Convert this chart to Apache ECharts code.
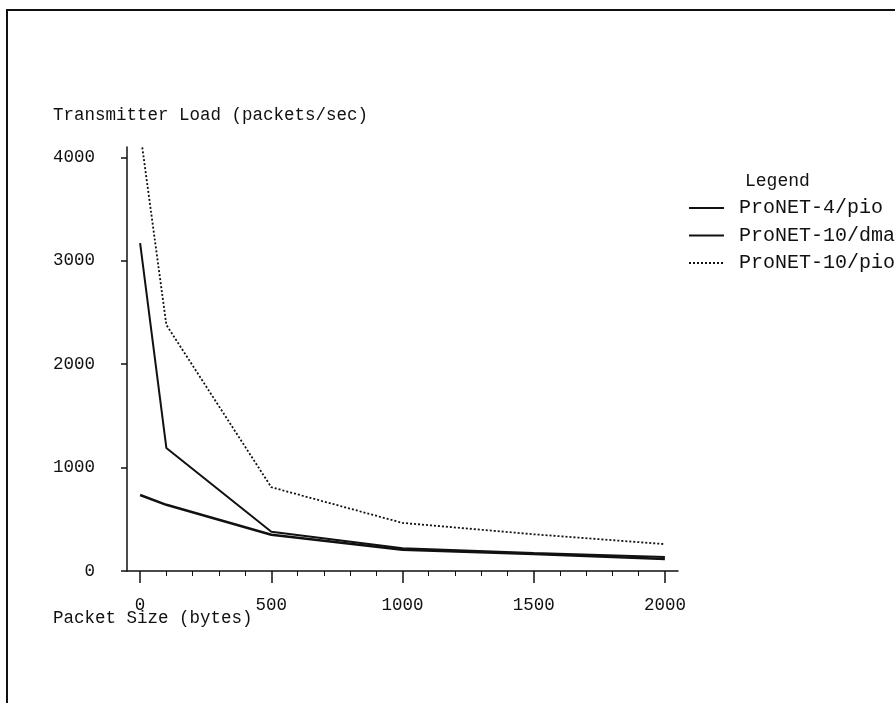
<!DOCTYPE html>
<html>
<head>
<meta charset="utf-8">
<script src="https://cdn.jsdelivr.net/npm/echarts@6/dist/echarts.min.js"></script>
<style>html,body{margin:0;padding:0;background:#fff}#c{width:895px;height:703px}</style>
</head>
<body>
<div id="c"></div>
<script>
// Packet sizes (bytes)
var sizes4 = [0, 100, 500, 1000, 1500, 2000];
var pronet4pio = [735, 640, 350, 205, 165, 115];
var sizes10dma = [0, 100, 500, 1000, 1500, 2000];
var pronet10dma = [3170, 1190, 380, 220, 175, 135];
var sizes10pio = [0, 100, 500, 1000, 1500, 2000];
var pronet10pio = [4250, 2380, 810, 465, 355, 260];
var seriesNames = ['ProNET-4/pio', 'ProNET-10/dma', 'ProNET-10/pio'];
var xMajorTicks = [0, 500, 1000, 1500, 2000];
var xMinorTicks = [100, 200, 300, 400, 600, 700, 800, 900, 1100, 1200, 1300, 1400, 1600, 1700, 1800, 1900];
var yTicks = [0, 1000, 2000, 3000, 4000];
var yTitle = 'Transmitter Load (packets/sec)';
var xTitle = 'Packet Size (bytes)';
var legendTitle = 'Legend';

function pairs(xs, ys) { return xs.map(function (x, i) { return [x, ys[i]]; }); }
function plain(v) { return String(v); }

var FONT = 'Liberation Mono';
var INK = '#111';
var chart = echarts.init(document.getElementById('c'));
chart.setOption({
  animation: false,
  backgroundColor: '#fff',
  grid: { left: 127, right: 217, top: 147, bottom: 132 },
  xAxis: [{
    type: 'value', min: -50, max: 2050, position: 'bottom',
    axisLine: { show: true, onZero: false, lineStyle: { color: INK, width: 1.5 } },
    axisTick: { show: true, length: 12, customValues: xMajorTicks, lineStyle: { color: INK, width: 1.5 } },
    axisLabel: { customValues: xMajorTicks, formatter: plain, margin: 25, color: INK, fontFamily: FONT, fontSize: 17.5 },
    splitLine: { show: false }
  }, {
    type: 'value', min: -50, max: 2050, position: 'bottom',
    axisLine: { show: false },
    axisTick: { show: true, length: 5, customValues: xMinorTicks, lineStyle: { color: INK, width: 1 } },
    axisLabel: { show: false, customValues: xMinorTicks },
    splitLine: { show: false }
  }],
  yAxis: {
    type: 'value', min: 0, max: 4100,
    axisLine: { show: true, onZero: false, lineStyle: { color: INK, width: 1.5 } },
    axisTick: { show: true, length: 6, customValues: yTicks, lineStyle: { color: INK, width: 1.5 } },
    axisLabel: { customValues: yTicks, formatter: plain, margin: 32, color: INK, fontFamily: FONT, fontSize: 17.5 },
    splitLine: { show: false }
  },
  legend: {
    orient: 'vertical', left: 688, top: 198, padding: 0,
    itemWidth: 35, itemHeight: 14, itemGap: 7.5,
    itemStyle: { opacity: 0 },
    textStyle: { color: INK, fontFamily: FONT, fontSize: 20, padding: [0, 0, 0, 10] },
    data: seriesNames
  },
  graphic: [
    { type: 'polyline', shape: { points: [[7, 703], [7, 10], [895, 10]] }, style: { stroke: INK, lineWidth: 2, fill: null } },
    { type: 'text', left: 53, top: 106, style: { text: yTitle, font: '17.5px "Liberation Mono"', fill: INK } },
    { type: 'text', left: 53, top: 609, style: { text: xTitle, font: '17.5px "Liberation Mono"', fill: INK } },
    { type: 'text', left: 745, top: 172, style: { text: legendTitle, font: '18px "Liberation Mono"', fill: INK } }
  ],
  series: [{
    name: seriesNames[0], type: 'line', xAxisIndex: 0, data: pairs(sizes4, pronet4pio),
    symbol: 'none', lineStyle: { color: INK, width: 2.5, type: 'solid' }, itemStyle: { color: INK }
  }, {
    name: seriesNames[1], type: 'line', xAxisIndex: 0, data: pairs(sizes10dma, pronet10dma),
    symbol: 'none', lineStyle: { color: INK, width: 2, type: 'solid' }, itemStyle: { color: INK }
  }, {
    name: seriesNames[2], type: 'line', xAxisIndex: 0, data: pairs(sizes10pio, pronet10pio),
    symbol: 'none', lineStyle: { color: INK, width: 1.8, type: [2, 2] }, itemStyle: { color: INK }
  }]
});
</script>
</body>
</html>
